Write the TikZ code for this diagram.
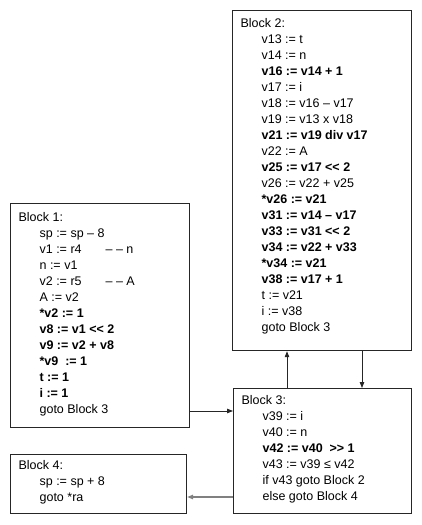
\documentclass[tikz,border=0pt]{standalone}
\usepackage{fontspec}
\setmainfont{Liberation Sans}
\usetikzlibrary{arrows.meta}
\newcommand{\ind}{\hspace*{21pt}}
\newcommand{\cmt}[2]{\makebox[66pt][l]{#1}#2}
\newcommand{\blockbody}[4]{\parbox[b][#2][t]{#1}{\rule{0pt}{#3}#4}}
\tikzset{
  block/.style={draw=black!85, line width=1.2pt, anchor=north west,
    inner xsep=8pt, inner ysep=0pt, font=\fontsize{12.5}{16}\selectfont},
  flow/.style={-{Triangle[length=6pt,width=4.5pt]}, line width=0.8pt, black!85},
  exitflow/.style={flow, black!50, line width=1.3pt}
}

\begin{document}
\begin{tikzpicture}[x=1pt, y=-1pt]
  \useasboundingbox (0,0) rectangle (422,525);

  \node[block] (b1) at (10,203) {\blockbody{163pt}{224pt}{18pt}{%
    Block 1:\\
    \ind sp := sp – 8\\
    \ind \cmt{v1 := r4}{– – n}\\
    \ind n := v1\\
    \ind \cmt{v2 := r5}{– – A}\\
    \ind A := v2\\
    \ind \textbf{*v2 := 1}\\
    \ind \textbf{v8 := v1 <{}< 2}\\
    \ind \textbf{v9 := v2 + v8}\\
    \ind \textbf{*v9\ \ := 1}\\
    \ind \textbf{t := 1}\\
    \ind \textbf{i := 1}\\
    \ind goto Block 3}};

  \node[block] (b2) at (232,10) {\blockbody{163pt}{340pt}{17pt}{%
    Block 2:\\
    \ind v13 := t\\
    \ind v14 := n\\
    \ind \textbf{v16 := v14 + 1}\\
    \ind v17 := i\\
    \ind v18 := v16 – v17\\
    \ind v19 := v13 x v18\\
    \ind \textbf{v21 := v19 div v17}\\
    \ind v22 := A\\
    \ind \textbf{v25 := v17 <{}< 2}\\
    \ind v26 := v22 + v25\\
    \ind \textbf{*v26 := v21}\\
    \ind \textbf{v31 := v14 – v17}\\
    \ind \textbf{v33 := v31 <{}< 2}\\
    \ind \textbf{v34 := v22 + v33}\\
    \ind \textbf{*v34 := v21}\\
    \ind \textbf{v38 := v17 + 1}\\
    \ind t := v21\\
    \ind i := v38\\
    \ind goto Block 3}};

  \node[block] (b3) at (233,388) {\blockbody{162pt}{125pt}{16pt}{%
    Block 3:\\
    \ind v39 := i\\
    \ind v40 := n\\
    \ind \textbf{v42 := v40\ \ >{}> 1}\\
    \ind v43 := v39 ≤ v42\\
    \ind if v43 goto Block 2\\
    \ind else goto Block 4}};

  \node[block] (b4) at (10,454) {\blockbody{160pt}{59pt}{15pt}{%
    Block 4:\\
    \ind sp := sp + 8\\
    \ind goto *ra}};

  % connector heights and columns
  \coordinate (fromone) at (0,411);
  \coordinate (tofour) at (0,497);
  \coordinate (upcol) at (287,0);
  \coordinate (downcol) at (362,0);

  \draw[flow] (b1.east |- fromone) -- (b3.west |- fromone);
  \draw[flow] (b3.north -| upcol) -- (b2.south -| upcol);
  \draw[flow] (b2.south -| downcol) -- (b3.north -| downcol);
  \draw[exitflow] (b3.west |- tofour) -- (b4.east |- tofour);
\end{tikzpicture}
\end{document}
